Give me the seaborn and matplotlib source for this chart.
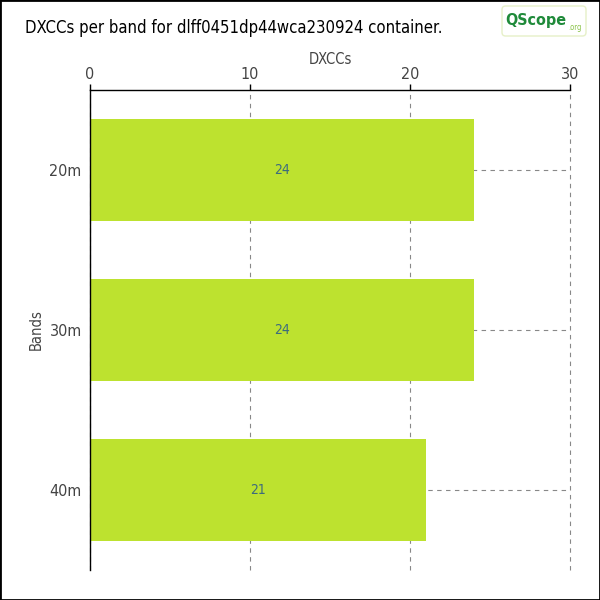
import matplotlib
matplotlib.use('Agg')
import matplotlib.pyplot as plt
from matplotlib.patches import FancyBboxPatch
import seaborn as sns
import pandas as pd

bands = ['20m', '30m', '40m']
dxccs = [24, 24, 21]

df = pd.DataFrame({'Bands': bands, 'DXCCs': dxccs})

sns.set_style('white')
plt.rcParams['font.family'] = ['DejaVu Sans']
plt.rcParams['font.stretch'] = 'condensed'

fig = plt.figure(figsize=(6, 6), dpi=100)
ax = fig.add_axes([0.15, 0.05, 0.80, 0.80])

sns.barplot(data=df, x='DXCCs', y='Bands', color='#bde22f', saturation=1,
            width=0.64, ax=ax)

# dashed grid behind the bars
ax.set_axisbelow(True)
ax.grid(True, axis='both', linestyle=(0, (4, 4)), color='#888888', linewidth=0.8)
for gl in ax.get_xgridlines():
    gl.set_clip_on(False)

for p in ax.patches:
    p.set_linewidth(0)

for i, v in enumerate(dxccs):
    ax.text(v / 2, i, str(v), ha='center', va='center', color='#3d6b7d', fontsize=10)

ax.set_xlim(0, 30)
ax.set_ylim(2.5, -0.5)
ax.set_xticks([0, 10, 20, 30])
ax.xaxis.tick_top()
ax.xaxis.set_label_position('top')
ax.set_xlabel('DXCCs', fontsize=10.5, color='#444444', labelpad=2)
ax.set_ylabel('Bands', fontsize=10.5, color='#444444', labelpad=4)
ax.tick_params(axis='both', labelsize=11.5, labelcolor='#444444', color='black',
               length=4, width=1, pad=2)

for s in ['right', 'bottom']:
    ax.spines[s].set_visible(False)
for s in ['left', 'top']:
    ax.spines[s].set_color('black')
    ax.spines[s].set_linewidth(1)

fig.text(25 / 600, 1 - 28 / 600, 'DXCCs per band for dlff0451dp44wca230924 container.',
         fontsize=12, color='black', va='center', ha='left')

# logo stand-in
fig.patches.append(FancyBboxPatch((502 / 600, 1 - 36 / 600), 84 / 600, 30 / 600,
                                  boxstyle='round,pad=0,rounding_size=0.006',
                                  transform=fig.transFigure, fc='white', ec='#e6f0c8', lw=1))
fig.text(505 / 600, 1 - 20 / 600, 'QScope', fontsize=11.5, color='#1f8a3a', fontweight='bold',
         va='center', ha='left')
fig.text(568 / 600, 1 - 27 / 600, '.org', fontsize=5.5, color='#8bc34a', va='center', ha='left')

# frame round the image
fig.patches.append(plt.Rectangle((0, 0), 1, 1, transform=fig.transFigure, fill=False,
                                 edgecolor='black', linewidth=2))

fig.savefig('out.png', dpi=100)
